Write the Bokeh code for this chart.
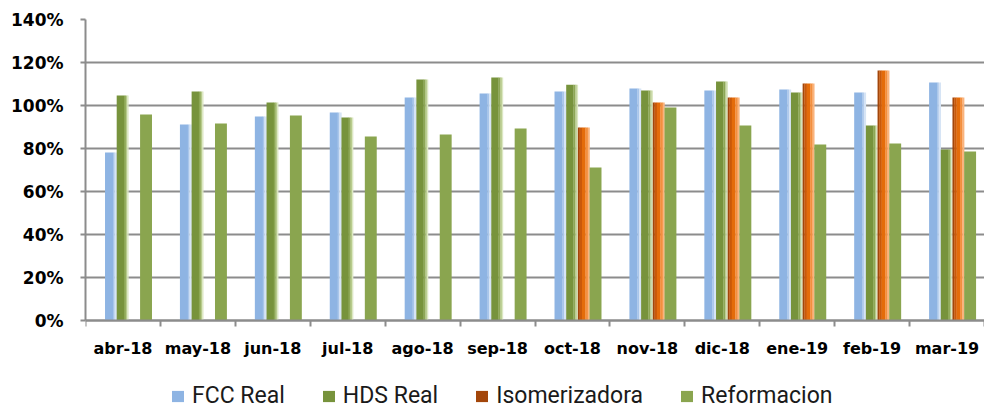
import math
from bokeh.plotting import figure
from bokeh.models import (FixedTicker, NumeralTickFormatter, Legend, LegendItem, Range1d)
from bokeh.embed import file_html
from bokeh.resources import INLINE

months = ["abr-18", "may-18", "jun-18", "jul-18", "ago-18", "sep-18",
          "oct-18", "nov-18", "dic-18", "ene-19", "feb-19", "mar-19"]
fcc_real = [0.781, 0.912, 0.949, 0.967, 1.037, 1.056, 1.065, 1.079, 1.070, 1.074, 1.060, 1.107]
hds_real = [1.047, 1.065, 1.014, 0.944, 1.121, 1.130, 1.097, 1.070, 1.112, 1.060, 0.907, 0.795]
isomerizadora = [math.nan, math.nan, math.nan, math.nan, math.nan, math.nan,
                 0.898, 1.014, 1.037, 1.102, 1.163, 1.037]
reformacion = [0.958, 0.916, 0.953, 0.856, 0.865, 0.893, 0.712, 0.991, 0.907, 0.819, 0.823, 0.786]
y_ticks = [0.0, 0.2, 0.4, 0.6, 0.8, 1.0, 1.2, 1.4]

GRAY = "#8c8c8c"
W = 0.156
# vertical range extends below 0% to leave room (inside the frame) for labels + legend
Y_MIN = -89 / 215.0

p = figure(width=984, height=409, output_backend="svg", toolbar_location=None,
           x_range=Range1d(0, 12), y_range=Range1d(Y_MIN, 1.4),
           min_border_left=85, min_border_right=0, min_border_top=19, min_border_bottom=0)
p.outline_line_color = None
p.background_fill_color = "white"

# x axis fixed at 0%: labels at category centres, ticks at boundaries (minor ticks)
n = len(months)
p.xaxis.fixed_location = 0
p.xaxis.ticker = FixedTicker(ticks=[i + 0.5 for i in range(n)], minor_ticks=list(range(n + 1)))
p.xaxis.major_label_overrides = {i + 0.5: m for i, m in enumerate(months)}
p.xaxis.major_tick_out = 0
p.xaxis.major_tick_in = 0
p.xaxis.minor_tick_out = 6
p.xaxis.minor_tick_in = 0
p.xaxis.minor_tick_line_color = GRAY
p.xaxis.minor_tick_line_width = 2
p.xaxis.axis_line_color = GRAY
p.xaxis.axis_line_width = 2
p.xaxis.major_label_standoff = 12
p.xaxis.major_label_text_font = "DejaVu Sans"
p.xaxis.major_label_text_font_style = "bold"
p.xaxis.major_label_text_font_size = "16px"
p.xaxis.major_label_text_color = "#000000"

p.yaxis.bounds = (0, 1.4)
p.yaxis.ticker = FixedTicker(ticks=y_ticks, minor_ticks=[])
p.yaxis.formatter = NumeralTickFormatter(format="0%")
p.yaxis.major_tick_out = 5
p.yaxis.major_tick_in = 0
p.yaxis.major_tick_line_color = GRAY
p.yaxis.major_tick_line_width = 2
p.yaxis.axis_line_color = GRAY
p.yaxis.axis_line_width = 2
p.yaxis.major_label_standoff = 17
p.yaxis.major_label_text_font = "DejaVu Sans"
p.yaxis.major_label_text_font_style = "bold"
p.yaxis.major_label_text_font_size = "17px"
p.yaxis.major_label_text_color = "#000000"

p.xgrid.visible = False
p.ygrid.ticker = FixedTicker(ticks=y_ticks)
p.ygrid.grid_line_color = GRAY
p.ygrid.grid_line_width = 2

series = [
    ("FCC Real", fcc_real, 0.34,
     [(0.0, 0.68, "#8EB4E3"), (0.68, 0.82, "#A9C6EA"), (0.82, 1.0, "#D6E4F5")]),
    ("HDS Real", hds_real, 0.496,
     [(0.0, 0.62, "#77933C"), (0.62, 0.78, "#8DA755"), (0.78, 0.9, "#B7CB8C"), (0.9, 1.0, "#DCE7C3")]),
    ("Isomerizadora", isomerizadora, 0.652,
     [(0.0, 0.15, "#A3460A"), (0.15, 0.35, "#C9590A"), (0.35, 0.65, "#E46C0A"),
      (0.65, 0.85, "#F38F3E"), (0.85, 1.0, "#FAB47E")]),
    ("Reformacion", reformacion, 0.808,
     [(0.0, 1.0, "#8AA54F")]),
]

items = []
for name, vals, off, stripes in series:
    main = None
    for a, b, col in stripes:
        xs = [i + off - W / 2 + W * (a + b) / 2 for i in range(n)]
        r = p.vbar(x=xs, top=vals, bottom=0, width=W * (b - a) + 0.003,
                   fill_color=col, line_color=None)
        if main is None:
            main = r
    items.append(LegendItem(label=name, renderers=[main]))

legend = Legend(items=items, orientation="horizontal", location=(85, 0),
                label_text_font="Roboto", label_text_font_size="23px",
                label_text_color="#1a1a1a", glyph_width=15, glyph_height=14,
                label_standoff=7, spacing=36, padding=0, margin=0,
                border_line_color=None, background_fill_alpha=0)
p.add_layout(legend)

open("out.html", "w").write(file_html(p, INLINE))
